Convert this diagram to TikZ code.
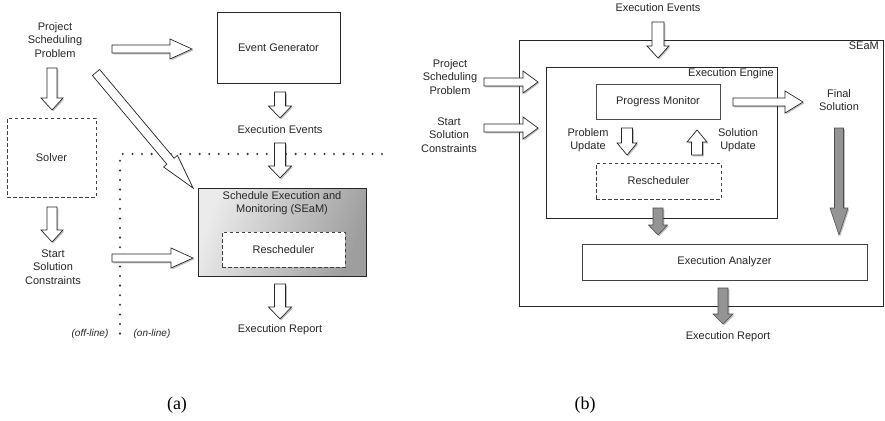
\documentclass[tikz,border=0pt]{standalone}
\usepackage{fontspec}
\setmainfont{Liberation Sans}
\newfontfamily\capfont{Liberation Serif}
\usetikzlibrary{calc,shadows}
\tikzset{
  aw/.store in=\aw, aH/.store in=\aH, ah/.store in=\ah,
  aw=4pt, aH=10pt, ah=20pt,
  barrow/.style={to path={let \p1=(\tikztostart),\p2=(\tikztotarget),
      \n1={atan2(\y2-\y1,\x2-\x1)},\n2={veclen(\x2-\x1,\y2-\y1)} in
      ($(\p1)+(\n1+90:\aw)$) -- ($(\p1)+(\n1:\n2-\ah)+(\n1+90:\aw)$)
      -- ($(\p1)+(\n1:\n2-\ah)+(\n1+90:\aH)$) -- (\p2)
      -- ($(\p1)+(\n1:\n2-\ah)+(\n1-90:\aH)$) -- ($(\p1)+(\n1:\n2-\ah)+(\n1-90:\aw)$)
      -- ($(\p1)+(\n1-90:\aw)$) -- cycle}},
  sh/.style={drop shadow={shadow xshift=1.3pt,shadow yshift=-1.3pt,fill=black,opacity=0.25}},
  hollow/.style={barrow, draw=black!85, line width=0.7pt, fill=white, line join=miter, sh},
  grayarr/.style={barrow, draw=black!70, line width=0.6pt, fill=black!42, line join=miter, sh},
  harr/.style={aw=4pt, aH=10pt, ah=22pt},
  varr/.style={aw=5.5pt, aH=11.5pt, ah=12pt},
  txt/.style={font=\fontsize{11}{13.5}\selectfont, align=center, inner sep=0pt, text=black!85},
  box/.style={draw=black!85, line width=0.8pt, fill=white, inner sep=0pt, font=\fontsize{11}{13.5}\selectfont, text=black!85},
  dbox/.style={box, draw=black!75, dash pattern=on 3.5pt off 2.5pt},
  dotline/.style={line width=2.3pt, line cap=round, dash pattern=on 0pt off 9.6pt, black!80},
  captxt/.style={font=\capfont\fontsize{18}{20}\selectfont, inner sep=0pt}
}
\begin{document}
\begin{tikzpicture}[x=1pt,y=1pt]
\useasboundingbox (0,0) rectangle (885,-420);

% ================= (a) =================
\node[txt] (psp) at (55,-40) {Project\\Scheduling\\Problem};
\node[box, line width=1pt, sh, minimum width=123pt, minimum height=70pt] (eg) at (278.5,-48) {Event Generator};
\node[txt] (ee1) at (280,-130) {Execution Events};
\node[dbox, fill=none, minimum width=89pt, minimum height=79pt] (solver) at (51.5,-157.5) {Solver};
\node[txt] (ssc) at (53,-267) {Start\\Solution\\Constraints};
\node[box, sh, left color=black!8, right color=black!38, shading angle=70, minimum width=168pt, minimum height=88pt] (seam) at (282,-232) {};
\node[txt] (seamt) at (282,-203) {Schedule Execution and\\Monitoring (SEaM)};
\node[dbox, minimum width=123pt, minimum height=35pt] (resch1) at (283.5,-249.5) {Rescheduler};
\node[txt] (er1) at (280,-330) {Execution Report};
\node[txt, font=\itshape\fontsize{10}{12}\selectfont] (off) at (90,-334) {(off-line)};
\node[txt, font=\itshape\fontsize{10}{12}\selectfont] (on) at (152,-334) {(on-line)};

\coordinate (dA) at (120,-154);
\coordinate (dB) at (382,-154);
\coordinate (dC) at (120,-340);
\draw[dotline] (dB) -- (dA) -- (dC);

\coordinate (a1s) at (112,-49);  \coordinate (a1e) at (192,-49);
\coordinate (a2s) at (280,-92);  \coordinate (a2e) at (280,-118);
\coordinate (a3s) at (280,-143); \coordinate (a3e) at (280,-178);
\coordinate (a4s) at (52,-68);   \coordinate (a4e) at (52,-110);
\coordinate (a5s) at (96,-72.5); \coordinate (a5e) at (193,-188);
\coordinate (a6s) at (52,-207);  \coordinate (a6e) at (52,-242);
\coordinate (a7s) at (112,-258); \coordinate (a7e) at (193,-258);
\coordinate (a8s) at (280,-284); \coordinate (a8e) at (280,-319);

\draw[hollow, harr] (a1s) to (a1e);
\draw[hollow, varr] (a2s) to (a2e);
\draw[hollow, varr] (a3s) to (a3e);
\draw[hollow, varr, aw=5pt, aH=11pt] (a4s) to (a4e);
\draw[hollow, aw=4.7pt, aH=9pt, ah=35pt] (a5s) to (a5e);
\draw[hollow, varr, aw=5pt, aH=11pt] (a6s) to (a6e);
\draw[hollow, harr] (a7s) to (a7e);
\draw[hollow, varr] (a8s) to (a8e);

% ================= (b) =================
\node[txt] (ee2) at (658,-8) {Execution Events};
\node[box, sh, minimum width=364pt, minimum height=266pt] (seamb) at (701,-173) {};
\node[txt, anchor=north east] (seaml) at (879,-42) {SEaM};
\node[box, minimum width=231pt, minimum height=151pt] (engine) at (661.5,-142.5) {};
\node[txt, anchor=north east] (engl) at (774,-68) {Execution Engine};
\node[txt] (psp2) at (450,-77) {Project\\Scheduling\\Problem};
\node[txt] (ssc2) at (449,-135) {Start\\Solution\\Constraints};
\node[box, draw=black!70, line width=0.7pt, minimum width=124pt, minimum height=35pt] (pm) at (658,-101.5) {Progress Monitor};
\node[txt] (fs) at (839,-100) {Final\\Solution};
\node[txt] (pu) at (588,-140) {Problem\\Update};
\node[txt] (su) at (738,-140) {Solution\\Update};
\node[dbox, minimum width=125pt, minimum height=36pt] (resch2) at (658.5,-181) {Rescheduler};
\node[box, sh, draw=black!75, minimum width=285pt, minimum height=36pt] (ea) at (724.5,-262) {Execution Analyzer};
\node[txt] (er2) at (728,-337) {Execution Report};

\coordinate (b1s) at (658,-22);  \coordinate (b1e) at (658,-58);
\coordinate (b2s) at (484,-82);  \coordinate (b2e) at (538,-82);
\coordinate (b3s) at (484,-128); \coordinate (b3e) at (538,-128);
\coordinate (b4s) at (733,-102); \coordinate (b4e) at (803,-102);
\coordinate (b5s) at (627,-128); \coordinate (b5e) at (627,-155);
\coordinate (b6s) at (697,-155); \coordinate (b6e) at (697,-130);
\coordinate (b7s) at (658,-208); \coordinate (b7e) at (658,-235);
\coordinate (b8s) at (839,-128); \coordinate (b8e) at (839,-235);
\coordinate (b9s) at (723,-288); \coordinate (b9e) at (723,-324);

\draw[hollow, aw=6pt, aH=11pt, ah=12pt] (b1s) to (b1e);
\draw[hollow, aw=4pt, aH=11pt, ah=15pt] (b2s) to (b2e);
\draw[hollow, aw=4pt, aH=11pt, ah=15pt] (b3s) to (b3e);
\draw[hollow, aw=4pt, aH=11pt, ah=18pt] (b4s) to (b4e);
\draw[hollow, aw=5.5pt, aH=10pt, ah=12pt] (b5s) to (b5e);
\draw[hollow, aw=5.5pt, aH=10pt, ah=12pt] (b6s) to (b6e);
\draw[grayarr, aw=5pt, aH=9.5pt, ah=10pt] (b7s) to (b7e);
\draw[grayarr, aw=4.5pt, aH=9pt, ah=27pt] (b8s) to (b8e);
\draw[grayarr, aw=5pt, aH=10pt, ah=10pt] (b9s) to (b9e);

% captions
\node[captxt] (capa) at (177,-405) {(a)};
\node[captxt] (capb) at (585,-405) {(b)};
\end{tikzpicture}
\end{document}
